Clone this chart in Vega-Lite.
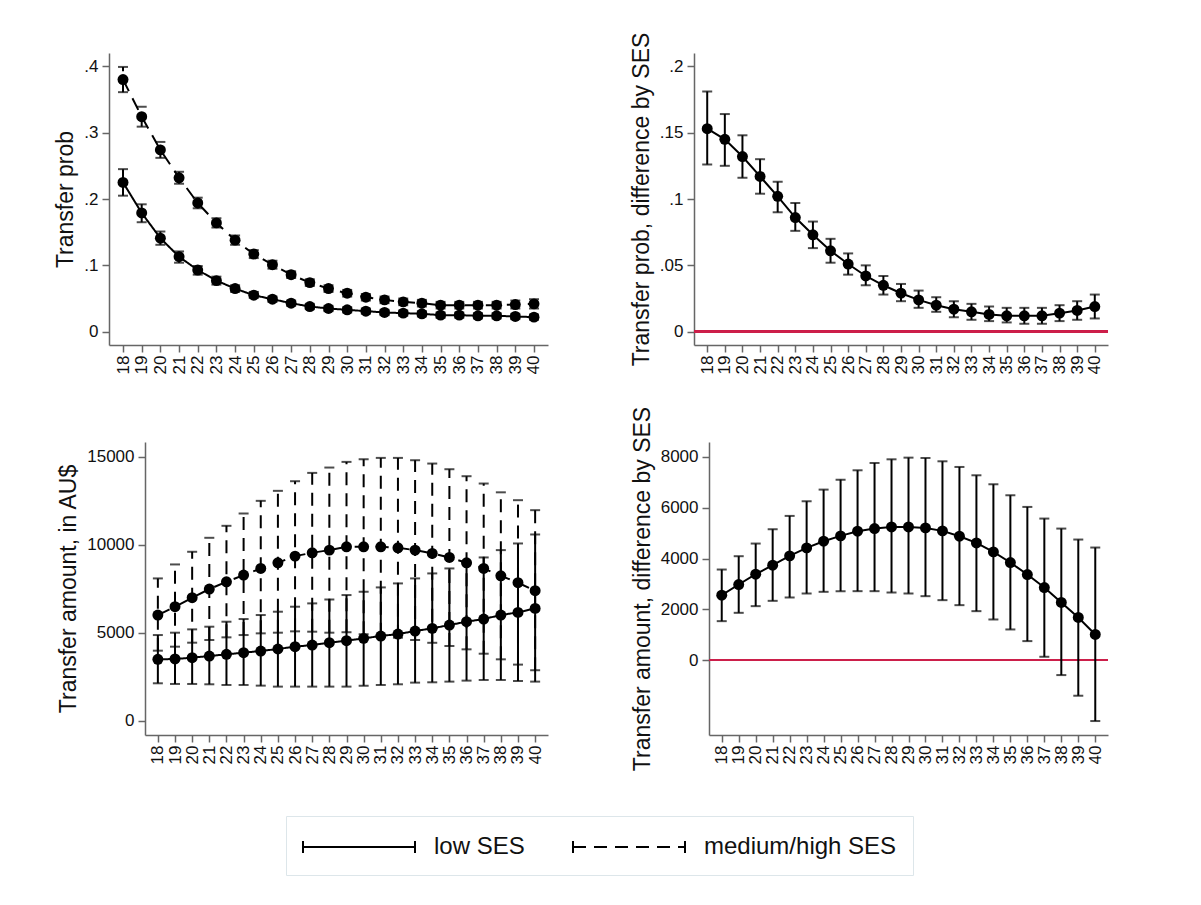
{
  "$schema": "https://vega.github.io/schema/vega-lite/v6.json",
  "background": "white",
  "padding": {"left": 54, "top": 32, "right": 5, "bottom": 5},
  "datasets": {
    "prob": [
      {"age":18,"ses":"medium/high SES","est":0.380,"lo":0.361,"hi":0.399},
      {"age":19,"ses":"medium/high SES","est":0.324,"lo":0.309,"hi":0.339},
      {"age":20,"ses":"medium/high SES","est":0.274,"lo":0.262,"hi":0.286},
      {"age":21,"ses":"medium/high SES","est":0.232,"lo":0.223,"hi":0.241},
      {"age":22,"ses":"medium/high SES","est":0.194,"lo":0.186,"hi":0.202},
      {"age":23,"ses":"medium/high SES","est":0.164,"lo":0.157,"hi":0.171},
      {"age":24,"ses":"medium/high SES","est":0.138,"lo":0.131,"hi":0.145},
      {"age":25,"ses":"medium/high SES","est":0.117,"lo":0.111,"hi":0.123},
      {"age":26,"ses":"medium/high SES","est":0.101,"lo":0.095,"hi":0.107},
      {"age":27,"ses":"medium/high SES","est":0.086,"lo":0.081,"hi":0.091},
      {"age":28,"ses":"medium/high SES","est":0.074,"lo":0.069,"hi":0.079},
      {"age":29,"ses":"medium/high SES","est":0.065,"lo":0.060,"hi":0.070},
      {"age":30,"ses":"medium/high SES","est":0.058,"lo":0.053,"hi":0.063},
      {"age":31,"ses":"medium/high SES","est":0.052,"lo":0.047,"hi":0.057},
      {"age":32,"ses":"medium/high SES","est":0.048,"lo":0.043,"hi":0.053},
      {"age":33,"ses":"medium/high SES","est":0.045,"lo":0.040,"hi":0.050},
      {"age":34,"ses":"medium/high SES","est":0.043,"lo":0.038,"hi":0.048},
      {"age":35,"ses":"medium/high SES","est":0.040,"lo":0.035,"hi":0.045},
      {"age":36,"ses":"medium/high SES","est":0.040,"lo":0.035,"hi":0.045},
      {"age":37,"ses":"medium/high SES","est":0.040,"lo":0.035,"hi":0.045},
      {"age":38,"ses":"medium/high SES","est":0.040,"lo":0.035,"hi":0.045},
      {"age":39,"ses":"medium/high SES","est":0.041,"lo":0.035,"hi":0.047},
      {"age":40,"ses":"medium/high SES","est":0.042,"lo":0.035,"hi":0.049},
      {"age":18,"ses":"low SES","est":0.225,"lo":0.205,"hi":0.245},
      {"age":19,"ses":"low SES","est":0.179,"lo":0.165,"hi":0.192},
      {"age":20,"ses":"low SES","est":0.141,"lo":0.131,"hi":0.151},
      {"age":21,"ses":"low SES","est":0.113,"lo":0.104,"hi":0.121},
      {"age":22,"ses":"low SES","est":0.093,"lo":0.086,"hi":0.099},
      {"age":23,"ses":"low SES","est":0.077,"lo":0.071,"hi":0.083},
      {"age":24,"ses":"low SES","est":0.065,"lo":0.060,"hi":0.070},
      {"age":25,"ses":"low SES","est":0.055,"lo":0.051,"hi":0.060},
      {"age":26,"ses":"low SES","est":0.049,"lo":0.045,"hi":0.053},
      {"age":27,"ses":"low SES","est":0.043,"lo":0.039,"hi":0.047},
      {"age":28,"ses":"low SES","est":0.038,"lo":0.034,"hi":0.042},
      {"age":29,"ses":"low SES","est":0.035,"lo":0.031,"hi":0.039},
      {"age":30,"ses":"low SES","est":0.033,"lo":0.029,"hi":0.037},
      {"age":31,"ses":"low SES","est":0.031,"lo":0.027,"hi":0.035},
      {"age":32,"ses":"low SES","est":0.029,"lo":0.025,"hi":0.033},
      {"age":33,"ses":"low SES","est":0.028,"lo":0.024,"hi":0.032},
      {"age":34,"ses":"low SES","est":0.027,"lo":0.023,"hi":0.031},
      {"age":35,"ses":"low SES","est":0.025,"lo":0.021,"hi":0.029},
      {"age":36,"ses":"low SES","est":0.025,"lo":0.021,"hi":0.029},
      {"age":37,"ses":"low SES","est":0.024,"lo":0.020,"hi":0.028},
      {"age":38,"ses":"low SES","est":0.024,"lo":0.020,"hi":0.028},
      {"age":39,"ses":"low SES","est":0.023,"lo":0.019,"hi":0.027},
      {"age":40,"ses":"low SES","est":0.022,"lo":0.018,"hi":0.026}
    ],
    "probdiff": [
      {"age":18,"est":0.153,"lo":0.126,"hi":0.181},
      {"age":19,"est":0.145,"lo":0.125,"hi":0.164},
      {"age":20,"est":0.132,"lo":0.116,"hi":0.148},
      {"age":21,"est":0.117,"lo":0.104,"hi":0.130},
      {"age":22,"est":0.102,"lo":0.090,"hi":0.113},
      {"age":23,"est":0.086,"lo":0.076,"hi":0.097},
      {"age":24,"est":0.073,"lo":0.063,"hi":0.083},
      {"age":25,"est":0.061,"lo":0.052,"hi":0.070},
      {"age":26,"est":0.051,"lo":0.043,"hi":0.059},
      {"age":27,"est":0.042,"lo":0.035,"hi":0.050},
      {"age":28,"est":0.035,"lo":0.028,"hi":0.042},
      {"age":29,"est":0.029,"lo":0.023,"hi":0.036},
      {"age":30,"est":0.024,"lo":0.018,"hi":0.031},
      {"age":31,"est":0.020,"lo":0.015,"hi":0.026},
      {"age":32,"est":0.017,"lo":0.011,"hi":0.023},
      {"age":33,"est":0.015,"lo":0.009,"hi":0.021},
      {"age":34,"est":0.013,"lo":0.008,"hi":0.019},
      {"age":35,"est":0.012,"lo":0.007,"hi":0.018},
      {"age":36,"est":0.012,"lo":0.006,"hi":0.018},
      {"age":37,"est":0.012,"lo":0.006,"hi":0.018},
      {"age":38,"est":0.014,"lo":0.008,"hi":0.020},
      {"age":39,"est":0.016,"lo":0.009,"hi":0.023},
      {"age":40,"est":0.019,"lo":0.010,"hi":0.028}
    ],
    "amt": [
      {"age":18,"ses":"medium/high SES","est":6017,"lo":3992,"hi":8098},
      {"age":19,"ses":"medium/high SES","est":6490,"lo":4219,"hi":8892},
      {"age":20,"ses":"medium/high SES","est":7000,"lo":4446,"hi":9612},
      {"age":21,"ses":"medium/high SES","est":7492,"lo":4598,"hi":10406},
      {"age":22,"ses":"medium/high SES","est":7908,"lo":4749,"hi":11087},
      {"age":23,"ses":"medium/high SES","est":8287,"lo":4880,"hi":11787},
      {"age":24,"ses":"medium/high SES","est":8665,"lo":4976,"hi":12506},
      {"age":25,"ses":"medium/high SES","est":8987,"lo":5014,"hi":13074},
      {"age":26,"ses":"medium/high SES","est":9365,"lo":5090,"hi":13622},
      {"age":27,"ses":"medium/high SES","est":9555,"lo":5071,"hi":14095},
      {"age":28,"ses":"medium/high SES","est":9706,"lo":5014,"hi":14398},
      {"age":29,"ses":"medium/high SES","est":9895,"lo":5040,"hi":14720},
      {"age":30,"ses":"medium/high SES","est":9895,"lo":4919,"hi":14871},
      {"age":31,"ses":"medium/high SES","est":9895,"lo":4843,"hi":14947},
      {"age":32,"ses":"medium/high SES","est":9838,"lo":4729,"hi":14947},
      {"age":33,"ses":"medium/high SES","est":9706,"lo":4598,"hi":14814},
      {"age":34,"ses":"medium/high SES","est":9517,"lo":4440,"hi":14625},
      {"age":35,"ses":"medium/high SES","est":9290,"lo":4257,"hi":14303},
      {"age":36,"ses":"medium/high SES","est":8987,"lo":4068,"hi":13906},
      {"age":37,"ses":"medium/high SES","est":8665,"lo":3820,"hi":13490},
      {"age":38,"ses":"medium/high SES","est":8249,"lo":3500,"hi":12990},
      {"age":39,"ses":"medium/high SES","est":7852,"lo":3200,"hi":12544},
      {"age":40,"ses":"medium/high SES","est":7398,"lo":2880,"hi":11976},
      {"age":18,"ses":"low SES","est":3500,"lo":2138,"hi":4880},
      {"age":19,"ses":"low SES","est":3519,"lo":2100,"hi":5014},
      {"age":20,"ses":"low SES","est":3595,"lo":2100,"hi":5203},
      {"age":21,"ses":"low SES","est":3689,"lo":2081,"hi":5354},
      {"age":22,"ses":"low SES","est":3784,"lo":2043,"hi":5638},
      {"age":23,"ses":"low SES","est":3879,"lo":2043,"hi":5790},
      {"age":24,"ses":"low SES","est":3973,"lo":2005,"hi":6017},
      {"age":25,"ses":"low SES","est":4087,"lo":1949,"hi":6206},
      {"age":26,"ses":"low SES","est":4219,"lo":1949,"hi":6490},
      {"age":27,"ses":"low SES","est":4314,"lo":1949,"hi":6679},
      {"age":28,"ses":"low SES","est":4446,"lo":1949,"hi":6900},
      {"age":29,"ses":"low SES","est":4560,"lo":1949,"hi":7152},
      {"age":30,"ses":"low SES","est":4692,"lo":2005,"hi":7341},
      {"age":31,"ses":"low SES","est":4825,"lo":2043,"hi":7587},
      {"age":32,"ses":"low SES","est":4938,"lo":2081,"hi":7814},
      {"age":33,"ses":"low SES","est":5108,"lo":2176,"hi":8098},
      {"age":34,"ses":"low SES","est":5260,"lo":2195,"hi":8382},
      {"age":35,"ses":"low SES","est":5449,"lo":2233,"hi":8665},
      {"age":36,"ses":"low SES","est":5638,"lo":2290,"hi":8949},
      {"age":37,"ses":"low SES","est":5790,"lo":2327,"hi":9290},
      {"age":38,"ses":"low SES","est":6017,"lo":2327,"hi":9706},
      {"age":39,"ses":"low SES","est":6168,"lo":2270,"hi":10084},
      {"age":40,"ses":"low SES","est":6395,"lo":2233,"hi":10595}
    ],
    "amtdiff": [
      {"age":18,"est":2557,"lo":1534,"hi":3567},
      {"age":19,"est":2977,"lo":1862,"hi":4092},
      {"age":20,"est":3384,"lo":2125,"hi":4590},
      {"age":21,"est":3738,"lo":2334,"hi":5154},
      {"age":22,"est":4105,"lo":2466,"hi":5679},
      {"age":23,"est":4420,"lo":2623,"hi":6256},
      {"age":24,"est":4682,"lo":2689,"hi":6715},
      {"age":25,"est":4892,"lo":2715,"hi":7108},
      {"age":26,"est":5075,"lo":2715,"hi":7476},
      {"age":27,"est":5180,"lo":2715,"hi":7764},
      {"age":28,"est":5246,"lo":2662,"hi":7908},
      {"age":29,"est":5246,"lo":2623,"hi":7974},
      {"age":30,"est":5207,"lo":2518,"hi":7961},
      {"age":31,"est":5089,"lo":2361,"hi":7830},
      {"age":32,"est":4879,"lo":2164,"hi":7607},
      {"age":33,"est":4616,"lo":1928,"hi":7279},
      {"age":34,"est":4262,"lo":1600,"hi":6925},
      {"age":35,"est":3843,"lo":1207,"hi":6492},
      {"age":36,"est":3371,"lo":748,"hi":6033},
      {"age":37,"est":2859,"lo":131,"hi":5574},
      {"age":38,"est":2269,"lo":-590,"hi":5180},
      {"age":39,"est":1679,"lo":-1403,"hi":4748},
      {"age":40,"est":1010,"lo":-2400,"hi":4433}
    ]
  },
  "columns": 1,
  "align": "none",
  "spacing": 32,
  "concat": [
    {
      "bounds": "flush",
      "spacing": 146,
      "hconcat": [
        {
          "width": 439, "height": 292,
          "data": {"name": "prob"},
          "layer": [
            {"mark": {"type": "rule", "strokeWidth": 2, "color": "#000"},
             "encoding": {"x": {"field": "age", "type": "quantitative", "scale": {"domain": [17.25, 40.75], "nice": false, "zero": false}, "axis": {"title": null, "values": [18,19,20,21,22,23,24,25,26,27,28,29,30,31,32,33,34,35,36,37,38,39,40], "tickCount": 50, "format": "d", "labelAngle": 270, "labelOverlap": false}},
                          "y": {"field": "lo", "type": "quantitative", "title": "Transfer prob", "scale": {"domain": [-0.02, 0.42], "nice": false, "zero": false}, "axis": {"values": [0, 0.1, 0.2, 0.3, 0.4], "labelExpr": "datum.value > 0 && datum.value < 1 ? substring(toString(datum.value), 1) : toString(datum.value)"}},
                          "y2": {"field": "hi"},
                          "strokeDash": {"field": "ses", "type": "nominal", "scale": {"domain": ["low SES", "medium/high SES"], "range": [[1, 0], [13, 8]]}}}},
            {"mark": {"type": "tick", "orient": "horizontal", "size": 10, "thickness": 2, "color": "#000"},
             "encoding": {"x": {"field": "age", "type": "quantitative"}, "y": {"field": "lo", "type": "quantitative", "title": "Transfer prob"}}},
            {"mark": {"type": "tick", "orient": "horizontal", "size": 10, "thickness": 2, "color": "#000"},
             "encoding": {"x": {"field": "age", "type": "quantitative"}, "y": {"field": "hi", "type": "quantitative", "title": "Transfer prob"}}},
            {"mark": {"type": "line", "strokeWidth": 2, "color": "#000"},
             "encoding": {"x": {"field": "age", "type": "quantitative"}, "y": {"field": "est", "type": "quantitative", "title": "Transfer prob"},
                          "strokeDash": {"field": "ses", "type": "nominal", "scale": {"domain": ["low SES", "medium/high SES"], "range": [[1, 0], [13, 8]]}}}},
            {"mark": {"type": "circle", "size": 120, "opacity": 1, "color": "#000"},
             "encoding": {"x": {"field": "age", "type": "quantitative"}, "y": {"field": "est", "type": "quantitative", "title": "Transfer prob"}}}
          ]
        },
        {
          "width": 414, "height": 292,
          "data": {"name": "probdiff"},
          "layer": [
            {"mark": {"type": "rule", "strokeWidth": 2, "color": "#cc1f4a"},
             "encoding": {"y": {"datum": 0, "type": "quantitative", "title": "Transfer prob, difference by SES", "scale": {"domain": [-0.01, 0.21], "nice": false, "zero": false}, "axis": {"values": [0, 0.05, 0.1, 0.15, 0.2], "labelExpr": "datum.value > 0 && datum.value < 1 ? substring(toString(datum.value), 1) : toString(datum.value)"}}}},
            {"mark": {"type": "rule", "strokeWidth": 2, "color": "#000"},
             "encoding": {"x": {"field": "age", "type": "quantitative", "scale": {"domain": [17.25, 40.75], "nice": false, "zero": false}, "axis": {"title": null, "values": [18,19,20,21,22,23,24,25,26,27,28,29,30,31,32,33,34,35,36,37,38,39,40], "tickCount": 50, "format": "d", "labelAngle": 270, "labelOverlap": false}},
                          "y": {"field": "lo", "type": "quantitative", "title": "Transfer prob, difference by SES"}, "y2": {"field": "hi"}}},
            {"mark": {"type": "tick", "orient": "horizontal", "size": 10, "thickness": 2, "color": "#000"},
             "encoding": {"x": {"field": "age", "type": "quantitative"}, "y": {"field": "lo", "type": "quantitative", "title": "Transfer prob, difference by SES"}}},
            {"mark": {"type": "tick", "orient": "horizontal", "size": 10, "thickness": 2, "color": "#000"},
             "encoding": {"x": {"field": "age", "type": "quantitative"}, "y": {"field": "hi", "type": "quantitative", "title": "Transfer prob, difference by SES"}}},
            {"mark": {"type": "line", "strokeWidth": 2, "color": "#000"},
             "encoding": {"x": {"field": "age", "type": "quantitative"}, "y": {"field": "est", "type": "quantitative", "title": "Transfer prob, difference by SES"}}},
            {"mark": {"type": "circle", "size": 120, "opacity": 1, "color": "#000"},
             "encoding": {"x": {"field": "age", "type": "quantitative"}, "y": {"field": "est", "type": "quantitative", "title": "Transfer prob, difference by SES"}}}
          ]
        }
      ]
    },
    {
      "bounds": "flush",
      "spacing": 161,
      "hconcat": [
        {
          "width": 439, "height": 293,
          "data": {"name": "amt"},
          "layer": [
            {"mark": {"type": "rule", "strokeWidth": 2, "color": "#000"},
             "encoding": {"x": {"field": "age", "type": "quantitative", "scale": {"domain": [17.25, 40.75], "range": [36, 439], "nice": false, "zero": false}, "axis": {"title": null, "values": [18,19,20,21,22,23,24,25,26,27,28,29,30,31,32,33,34,35,36,37,38,39,40], "tickCount": 50, "format": "d", "labelAngle": 270, "labelOverlap": false}},
                          "y": {"field": "lo", "type": "quantitative", "title": "Transfer amount, in AU$", "scale": {"domain": [-800, 15850], "nice": false, "zero": false}, "axis": {"values": [0, 5000, 10000, 15000], "format": "d", "offset": -36}},
                          "y2": {"field": "hi"},
                          "strokeDash": {"field": "ses", "type": "nominal", "scale": {"domain": ["low SES", "medium/high SES"], "range": [[1, 0], [13, 8]]}}}},
            {"mark": {"type": "tick", "orient": "horizontal", "size": 10, "thickness": 2, "color": "#000"},
             "encoding": {"x": {"field": "age", "type": "quantitative"}, "y": {"field": "lo", "type": "quantitative", "title": "Transfer amount, in AU$"}}},
            {"mark": {"type": "tick", "orient": "horizontal", "size": 10, "thickness": 2, "color": "#000"},
             "encoding": {"x": {"field": "age", "type": "quantitative"}, "y": {"field": "hi", "type": "quantitative", "title": "Transfer amount, in AU$"}}},
            {"mark": {"type": "line", "strokeWidth": 2, "color": "#000"},
             "encoding": {"x": {"field": "age", "type": "quantitative"}, "y": {"field": "est", "type": "quantitative", "title": "Transfer amount, in AU$"},
                          "strokeDash": {"field": "ses", "type": "nominal", "scale": {"domain": ["low SES", "medium/high SES"], "range": [[1, 0], [13, 8]]}}}},
            {"mark": {"type": "circle", "size": 120, "opacity": 1, "color": "#000"},
             "encoding": {"x": {"field": "age", "type": "quantitative"}, "y": {"field": "est", "type": "quantitative", "title": "Transfer amount, in AU$"}}}
          ]
        },
        {
          "width": 399, "height": 293,
          "data": {"name": "amtdiff"},
          "layer": [
            {"mark": {"type": "rule", "strokeWidth": 2, "color": "#cc1f4a"},
             "encoding": {"y": {"datum": 0, "type": "quantitative", "title": "Transfer amount, difference by SES", "scale": {"domain": [-2950, 8590], "nice": false, "zero": false}, "axis": {"values": [0, 2000, 4000, 6000, 8000], "format": "d"}}}},
            {"mark": {"type": "rule", "strokeWidth": 2, "color": "#000"},
             "encoding": {"x": {"field": "age", "type": "quantitative", "scale": {"domain": [17.25, 40.75], "nice": false, "zero": false}, "axis": {"title": null, "values": [18,19,20,21,22,23,24,25,26,27,28,29,30,31,32,33,34,35,36,37,38,39,40], "tickCount": 50, "format": "d", "labelAngle": 270, "labelOverlap": false}},
                          "y": {"field": "lo", "type": "quantitative", "title": "Transfer amount, difference by SES"}, "y2": {"field": "hi"}}},
            {"mark": {"type": "tick", "orient": "horizontal", "size": 10, "thickness": 2, "color": "#000"},
             "encoding": {"x": {"field": "age", "type": "quantitative"}, "y": {"field": "lo", "type": "quantitative", "title": "Transfer amount, difference by SES"}}},
            {"mark": {"type": "tick", "orient": "horizontal", "size": 10, "thickness": 2, "color": "#000"},
             "encoding": {"x": {"field": "age", "type": "quantitative"}, "y": {"field": "hi", "type": "quantitative", "title": "Transfer amount, difference by SES"}}},
            {"mark": {"type": "line", "strokeWidth": 2, "color": "#000"},
             "encoding": {"x": {"field": "age", "type": "quantitative"}, "y": {"field": "est", "type": "quantitative", "title": "Transfer amount, difference by SES"}}},
            {"mark": {"type": "circle", "size": 120, "opacity": 1, "color": "#000"},
             "encoding": {"x": {"field": "age", "type": "quantitative"}, "y": {"field": "est", "type": "quantitative", "title": "Transfer amount, difference by SES"}}}
          ]
        }
      ]
    }
  ],
  "config": {
    "font": "Liberation Sans",
    "view": {"stroke": null},
    "axis": {
      "grid": false,
      "domainColor": "#666",
      "domainWidth": 1.5,
      "tickColor": "#666",
      "tickWidth": 1.5,
      "tickSize": 7,
      "labelFont": "Liberation Sans",
      "labelFontSize": 17,
      "labelColor": "#111",
      "labelPadding": 4,
      "titleFont": "Liberation Sans",
      "titleFontSize": 23,
      "titleFontWeight": "normal",
      "titleColor": "#111",
      "titlePadding": 6
    },
    "axisX": {"labelPadding": 3, "labelOverlap": false},
    "legend": {
      "orient": "none",
      "legendX": 177,
      "legendY": 763,
      "direction": "horizontal",
      "title": null,
      "symbolType": "M-1,-0.43V0.43M-1,0H7M7,-0.43V0.43",
      "symbolSize": 784,
      "symbolStrokeWidth": 2,
      "symbolStrokeColor": "#000",
      "symbolFillColor": "transparent",
      "labelOffset": 102,
      "labelLimit": 0,
      "labelFont": "Liberation Sans",
      "labelFontSize": 24,
      "labelColor": "#111",
      "columnPadding": 44,
      "padding": 16,
      "strokeColor": "#dde6ea",
      "fillColor": "#ffffff"
    }
  }
}
